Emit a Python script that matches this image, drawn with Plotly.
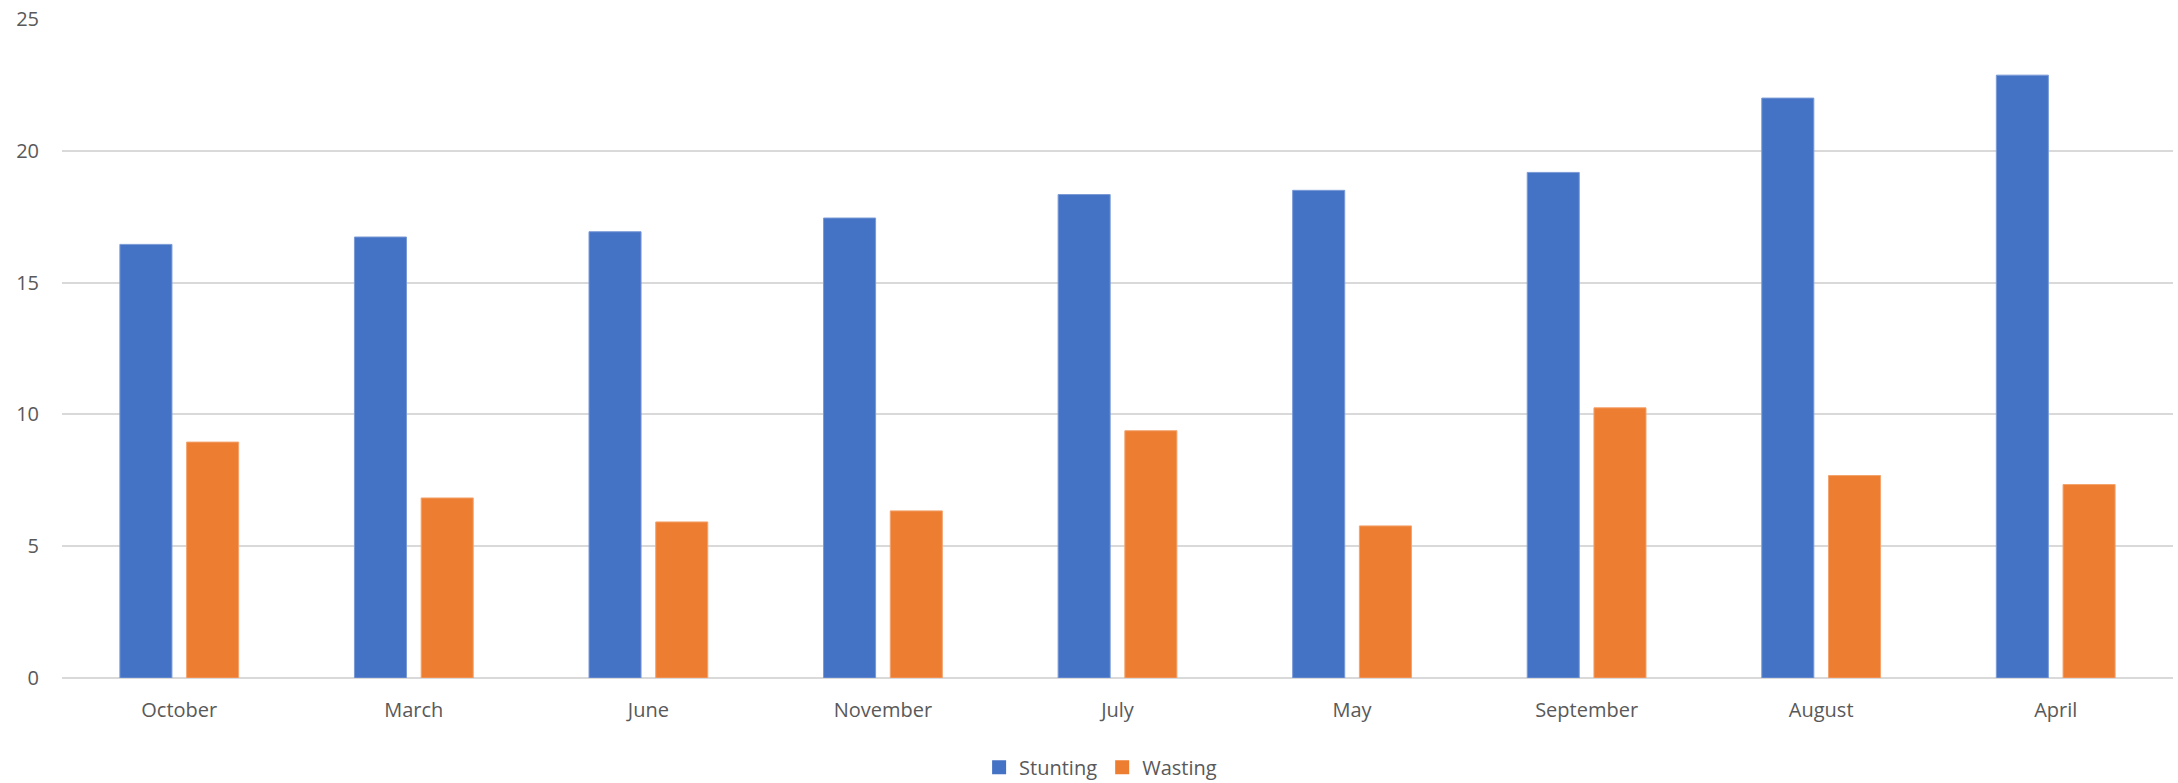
import plotly.graph_objects as go

# Monthly prevalence (%) of stunting and wasting
months = ["October", "March", "June", "November", "July", "May", "September", "August", "April"]
stunting = [16.45, 16.73, 16.93, 17.45, 18.34, 18.5, 19.18, 22.0, 22.87]
wasting = [8.95, 6.83, 5.92, 6.34, 9.38, 5.77, 10.25, 7.68, 7.34]
y_ticks = [0, 5, 10, 15, 20, 25]

series = [("Stunting", stunting, "#4472C4", "#7a9ad6"),
          ("Wasting", wasting, "#ED7D31", "#f3a36e")]

text_color = "#595959"
grid_color = "#d9d9d9"
font_family = "Open Sans, Lato, sans-serif"

fig = go.Figure()
for name, values, fill, edge in series:
    fig.add_trace(go.Bar(
        name=name, x=months, y=values, showlegend=False,
        marker=dict(color=fill, line=dict(color=edge, width=1)),
    ))
# legend entries with larger square swatches
for name, values, fill, edge in series:
    fig.add_trace(go.Scatter(
        name=name, x=[None], y=[None], mode="markers",
        marker=dict(symbol="square", size=14, color=fill),
        hoverinfo="skip",
    ))

fig.update_layout(
    width=2178, height=783,
    margin=dict(l=62, r=5, t=15, b=105),
    paper_bgcolor="white", plot_bgcolor="white",
    barmode="group", bargap=0.431, bargroupgap=0.22,
    font=dict(family=font_family, size=20, color=text_color),
    showlegend=True,
    legend=dict(
        orientation="h", xref="paper", x=0.492, xanchor="center",
        yref="container", y=0.02, yanchor="middle",
        font=dict(size=20, color=text_color),
        itemwidth=30, traceorder="normal",
    ),
    xaxis=dict(
        showgrid=False, zeroline=False, showline=False,
        ticks="", ticklabelstandoff=18,
        tickfont=dict(size=20, color=text_color),
    ),
    yaxis=dict(
        range=[0, 25], tickvals=y_ticks, ticktext=[str(v) for v in y_ticks],
        showgrid=True, gridcolor=grid_color, gridwidth=1.5,
        zeroline=True, zerolinecolor=grid_color, zerolinewidth=1.5,
        showline=False, ticks="", ticklabelstandoff=22,
        tickfont=dict(size=20, color=text_color),
    ),
)

fig.write_html("out.html")
